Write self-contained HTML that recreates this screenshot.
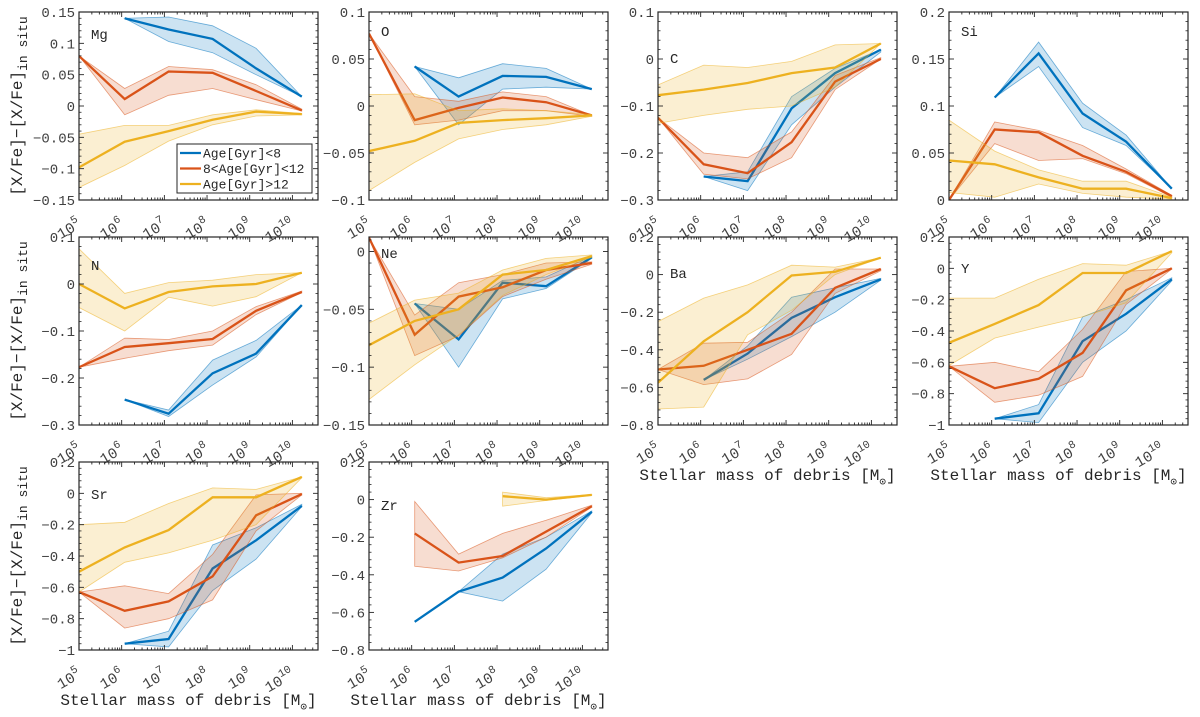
<!DOCTYPE html>
<html><head><meta charset="utf-8"><style>
html,body{margin:0;padding:0;background:#fff;}
svg{display:block;font-family:"Liberation Mono","DejaVu Sans Mono",monospace;}
</style></head><body>
<svg id="fig" width="1200" height="717" viewBox="0 0 1200 717" xmlns="http://www.w3.org/2000/svg"></svg>
<script>
const N=null;
const logMass=[5,6.07,7.1,8.13,9.15,10.22];
const seriesNames=['Age[Gyr]<8','8<Age[Gyr]<12','Age[Gyr]>12'];
const colors=['#0072BD','#D95319','#EDB120'];

const mgMean=[[N,.14,.122,.107,.06,.015],[.08,.011,.055,.053,.024,-.007],[-.098,-.057,-.04,-.022,-.009,-.013]];
const mgUpper=[[N,.14,.142,.128,.092,.015],[.08,.028,.063,.058,.034,-.005],[-.045,-.031,-.031,-.014,-.006,-.012]];
const mgLower=[[N,.14,.103,.085,.05,.015],[.08,-.014,.017,.028,.01,-.008],[-.13,-.095,-.056,-.03,-.016,-.014]];

const oMean=[[N,.042,.01,.032,.031,.018],[.077,-.015,-.002,.009,.004,-.01],[-.048,-.037,-.018,-.015,-.013,-.01]];
const oUpper=[[N,.042,.03,.045,.04,.018],[.077,.01,.005,.015,.01,-.01],[.012,.013,-.005,-.003,-.005,-.009]];
const oLower=[[N,.042,-.02,.018,.02,.018],[.077,-.02,-.015,-.005,-.005,-.011],[-.09,-.06,-.035,-.025,-.02,-.011]];

const cMean=[[N,-.25,-.26,-.105,-.03,.02],[-.125,-.224,-.243,-.177,-.048,0],[-.077,-.065,-.051,-.03,-.018,.033]];
const cUpper=[[N,-.25,-.24,-.08,-.02,.02],[-.125,-.2,-.21,-.155,-.035,.003],[-.055,-.013,-.018,-.005,.03,.033]];
const cLower=[[N,-.25,-.28,-.14,-.06,.015],[-.125,-.245,-.255,-.21,-.065,0],[-.137,-.12,-.107,-.1,-.06,.033]];

const siMean=[[N,.109,.156,.092,.062,.012],[0,.075,.072,.047,.03,.004],[.042,.038,.024,.012,.012,.002]];
const siUpper=[[N,.109,.168,.103,.069,.012],[0,.083,.074,.058,.033,.005],[.085,.052,.032,.02,.02,.003]];
const siLower=[[N,.109,.142,.077,.058,.012],[0,.06,.042,.044,.028,.003],[.008,.003,.017,.007,.003,.001]];

const nMean=[[N,-.246,-.276,-.19,-.148,-.045],[-.177,-.134,-.126,-.117,-.057,-.017],[0,-.052,-.017,-.005,0,.024]];
const nUpper=[[N,-.246,-.268,-.162,-.12,-.045],[-.177,-.115,-.118,-.1,-.048,-.015],[.075,-.02,.003,.008,.02,.024]];
const nLower=[[N,-.246,-.282,-.215,-.155,-.045],[-.177,-.158,-.142,-.13,-.065,-.018],[-.05,-.1,-.028,-.047,-.027,.024]];

const neMean=[[N,-.045,-.076,-.027,-.03,-.005],[.012,-.072,-.039,-.031,-.016,-.01],[-.081,-.06,-.05,-.02,-.016,-.004]];
const neUpper=[[N,-.045,-.05,-.025,-.022,-.004],[.012,-.055,-.027,-.02,-.01,-.009],[-.062,-.042,-.036,-.016,-.006,-.003]];
const neLower=[[N,-.045,-.1,-.041,-.032,-.006],[.012,-.09,-.073,-.039,-.024,-.011],[-.128,-.098,-.072,-.038,-.02,-.005]];

const baMean=[[N,-.56,-.42,-.23,-.12,-.025],[-.505,-.485,-.4,-.315,-.07,.03],[-.575,-.355,-.2,-.005,.015,.09]];
const baUpper=[[N,-.56,-.38,-.12,-.07,-.02],[-.505,-.365,-.36,-.2,.03,.03],[-.25,-.125,-.055,.05,.04,.09]];
const baLower=[[N,-.56,-.45,-.33,-.2,-.03],[-.505,-.585,-.555,-.425,-.1,.02],[-.715,-.705,-.32,-.19,0,.09]];

const yMean=[[N,-.96,-.925,-.465,-.29,-.07],[-.625,-.765,-.705,-.54,-.14,0],[-.475,-.355,-.235,-.03,-.03,.11]];
const yUpper=[[N,-.96,-.87,-.31,-.2,-.06],[-.625,-.6,-.66,-.39,-.02,0],[-.19,-.19,-.07,.03,.02,.11]];
const yLower=[[N,-.96,-.985,-.6,-.4,-.08],[-.625,-.855,-.81,-.69,-.23,-.005],[-.62,-.445,-.375,-.31,-.22,.1]];

const srMean=[[N,-.96,-.93,-.48,-.3,-.08],[-.63,-.75,-.69,-.53,-.14,-.005],[-.5,-.345,-.235,-.025,-.025,.105]];
const srUpper=[[N,-.96,-.88,-.33,-.22,-.07],[-.63,-.59,-.64,-.39,-.01,0],[-.2,-.185,-.065,.035,.025,.105]];
const srLower=[[N,-.96,-.98,-.62,-.42,-.085],[-.63,-.86,-.8,-.68,-.24,-.01],[-.63,-.44,-.38,-.3,-.2,.1]];

const zrMean=[[N,-.65,-.49,-.415,-.26,-.065],[N,-.18,-.335,-.3,-.17,-.035],[N,N,N,.018,0,.025]];
const zrUpper=[[N,-.65,-.49,-.29,-.2,-.06],[N,-.01,-.29,-.18,-.11,-.03],[N,N,N,.04,.01,.027]];
const zrLower=[[N,-.65,-.49,-.54,-.37,-.07],[N,-.355,-.38,-.31,-.2,-.04],[N,N,N,-.035,-.005,.023]];

const ticksMg=[-.15,-.1,-.05,0,.05,.1,.15];
const ticksO=[-.1,-.05,0,.05,.1];
const ticksC=[-.3,-.2,-.1,0,.1];
const ticksSi=[0,.05,.1,.15,.2];
const ticksN=[-.3,-.2,-.1,0,.1];
const ticksNe=[-.15,-.1,-.05,0];
const ticksBa=[-.8,-.6,-.4,-.2,0,.2];
const ticksY=[-1,-.8,-.6,-.4,-.2,0,.2];
const xTickExp=[5,6,7,8,9,10];

const colX=[79,369,658,949], rowY=[12,237,462], PW=239, PH=188;
const XMIN=5, XMAX=10.6;
const panels=[
 {el:'Mg',c:0,r:0,ymin:-.15,ymax:.15,t:ticksMg,m:mgMean,u:mgUpper,l:mgLower,ly:22,legend:true,ytitle:true},
 {el:'O',c:1,r:0,ymin:-.1,ymax:.1,t:ticksO,m:oMean,u:oUpper,l:oLower,ly:19},
 {el:'C',c:2,r:0,ymin:-.3,ymax:.1,t:ticksC,m:cMean,u:cUpper,l:cLower,ly:46},
 {el:'Si',c:3,r:0,ymin:0,ymax:.2,t:ticksSi,m:siMean,u:siUpper,l:siLower,ly:19},
 {el:'N',c:0,r:1,ymin:-.3,ymax:.1,t:ticksN,m:nMean,u:nUpper,l:nLower,ly:28,ytitle:true},
 {el:'Ne',c:1,r:1,ymin:-.15,ymax:.0125,t:ticksNe,m:neMean,u:neUpper,l:neLower,ly:16},
 {el:'Ba',c:2,r:1,ymin:-.8,ymax:.2,t:ticksBa,m:baMean,u:baUpper,l:baLower,ly:36,xtitle:true},
 {el:'Y',c:3,r:1,ymin:-1,ymax:.2,t:ticksY,m:yMean,u:yUpper,l:yLower,ly:31,xtitle:true},
 {el:'Sr',c:0,r:2,ymin:-1,ymax:.2,t:ticksY,m:srMean,u:srUpper,l:srLower,ly:32,xtitle:true,ytitle:true},
 {el:'Zr',c:1,r:2,ymin:-.8,ymax:.2,t:ticksBa,m:zrMean,u:zrUpper,l:zrLower,ly:43,xtitle:true},
];
const NS='http://www.w3.org/2000/svg';
const svg=document.getElementById('fig');
function mk(tag,attrs,parent){const e=document.createElementNS(NS,tag);for(const k in attrs)e.setAttribute(k,attrs[k]);(parent||svg).appendChild(e);return e;}
function fmt(v){let s=(Math.round(v*1000)/1000).toString();return s.replace('-','\u2212');}

panels.forEach(p=>{
  const x0=colX[p.c], y0=rowY[p.r];
  const sx=v=>x0+(v-XMIN)/(XMAX-XMIN)*PW;
  const sy=v=>y0+PH-(v-p.ymin)/(p.ymax-p.ymin)*PH;
  const g=mk('g',{});
  
  
  const clip=mk('clipPath',{id:'clip'+p.el},g);
  mk('rect',{x:x0,y:y0,width:PW,height:PH},clip);
  const plot=mk('g',{'clip-path':'url(#clip'+p.el+')'},g);
  for(let s=0;s<3;s++){
    const idx=logMass.map((_,i)=>i).filter(i=>p.m[s][i]!==null);
    const up=idx.map(i=>sx(logMass[i]).toFixed(1)+','+sy(p.u[s][i]).toFixed(1));
    const lo=idx.slice().reverse().map(i=>sx(logMass[i]).toFixed(1)+','+sy(p.l[s][i]).toFixed(1));
    const band=mk('polygon',{points:up.concat(lo).join(' '),fill:colors[s],'fill-opacity':0.2,stroke:colors[s],'stroke-opacity':0.55,'stroke-width':0.8},plot);
    
    
    const line=mk('polyline',{points:idx.map(i=>sx(logMass[i]).toFixed(1)+','+sy(p.m[s][i]).toFixed(1)).join(' '),fill:'none',stroke:colors[s],'stroke-width':2.3},plot);
    
    
  }
  const box=mk('rect',{x:x0,y:y0,width:PW,height:PH,fill:'none',stroke:'#262626','stroke-width':1.2},g);
  
  
  for(let d=5;d<=10;d++){
    for(let k=1;k<10;k++){
      const v=d+Math.log10(k); if(v>XMAX) break;
      const L=k===1?5:2.5, X=sx(v);
      mk('line',{x1:X,x2:X,y1:y0+PH,y2:y0+PH-L,stroke:'#262626','stroke-width':0.9},g);
      mk('line',{x1:X,x2:X,y1:y0,y2:y0+L,stroke:'#262626','stroke-width':0.9},g);
    }
  }
  xTickExp.forEach(e=>{
    const X=sx(e)+3, Y=y0+PH+27;
    const t=mk('text',{x:X,y:Y,'text-anchor':'end','font-size':15,fill:'#404040',transform:'rotate(-30 '+X+' '+Y+')'},g);
    
    
    t.appendChild(document.createTextNode('10'));
    const sp=mk('tspan',{dy:-7,'font-size':11},t); sp.textContent=e;
  });
  const step=p.t[1]-p.t[0];
  p.t.forEach((v,i)=>{
    const Y=sy(v);
    mk('line',{x1:x0,x2:x0+5,y1:Y,y2:Y,stroke:'#262626','stroke-width':0.9},g);
    mk('line',{x1:x0+PW,x2:x0+PW-5,y1:Y,y2:Y,stroke:'#262626','stroke-width':0.9},g);
    for(let j=1;j<5;j++){const mv=v+step*j/5; if(mv<p.ymax){const MY=sy(mv);
      mk('line',{x1:x0,x2:x0+2.5,y1:MY,y2:MY,stroke:'#262626','stroke-width':0.8},g);
      mk('line',{x1:x0+PW,x2:x0+PW-2.5,y1:MY,y2:MY,stroke:'#262626','stroke-width':0.8},g);}}
    const t=mk('text',{x:x0-4,y:Y+5,'text-anchor':'end','font-size':14,fill:'#404040'},g);
    
    
    t.textContent=fmt(v);
  });
  const lab=mk('text',{x:x0+12,y:y0+p.ly+5,'font-size':14,fill:'#262626'},g);
  
  
  lab.textContent=p.el;
  if(p.xtitle){
    const t=mk('text',{x:x0+PW/2-10,y:y0+PH+55,'text-anchor':'middle','font-size':16,fill:'#262626'},g);
    
    
    t.appendChild(document.createTextNode('Stellar mass of debris [M'));
    const s1=mk('tspan',{dy:5,'font-size':11},t); s1.textContent='\u2299';
    const s2=mk('tspan',{dy:-5},t); s2.textContent=']';
  }
  if(p.ytitle){
    const cx=22, cy=y0+PH/2;
    const t=mk('text',{x:cx,y:cy,'text-anchor':'middle','font-size':16,fill:'#262626',transform:'rotate(-90 '+cx+' '+cy+')'},g);
    
    
    t.appendChild(document.createTextNode('[X/Fe]\u2212[X/Fe]'));
    const s1=mk('tspan',{dy:5,'font-size':13},t); s1.textContent='in situ';
  }
  if(p.legend){
    const lg=mk('g',{},g);
    
    
    mk('rect',{x:177,y:144,width:135,height:49,fill:'#fff',stroke:'#262626','stroke-width':1},lg);
    seriesNames.forEach((n,i)=>{
      const Y=153+i*15.5;
      const e=mk('g',{},lg);
      
      
      mk('line',{x1:180,x2:201,y1:Y,y2:Y,stroke:colors[i],'stroke-width':2.3},e);
      const t=mk('text',{x:203,y:Y+4.5,'font-size':13,fill:'#262626'},e);
      t.textContent=n;
    });
  }
});
</script>
</body></html>
